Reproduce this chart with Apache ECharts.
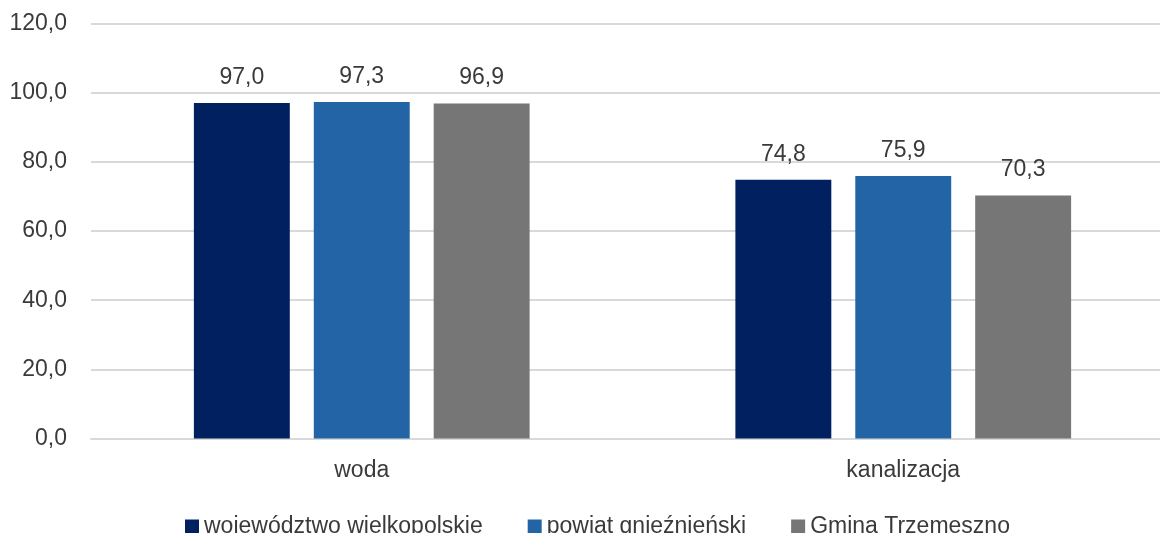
<!DOCTYPE html>
<html>
<head>
<meta charset="utf-8">
<script src="https://cdn.jsdelivr.net/npm/echarts@6/dist/echarts.min.js"></script>
<style>
  html, body { margin: 0; padding: 0; background: #fff; }
  #chart { width: 1160px; height: 533px; }
</style>
</head>
<body>
<div id="chart"></div>
<script>
// Share of population using water supply and sewage networks (%)
const categories = ['woda', 'kanalizacja'];
const seriesNames = ['województwo wielkopolskie', 'powiat gnieźnieński', 'Gmina Trzemeszno'];
const wojewodztwo = [97.0, 74.8];
const powiat = [97.3, 75.9];
const gmina = [96.9, 70.3];
const yTicks = [0, 20, 40, 60, 80, 100, 120];

const colors = ['#002060', '#2364A6', '#767676'];
const textColor = '#3a3a3a';
const fontFamily = '"Liberation Sans", Arial, sans-serif';
const fontSize = 23;
const fmt = v => Number(v).toFixed(1).replace('.', ',');

const chart = echarts.init(document.getElementById('chart'));

function makeSeries(name, data, color) {
  return {
    name: name,
    type: 'bar',
    data: data,
    barGap: '25%',
    barCategoryGap: '38%',
    itemStyle: { color: color },
    label: {
      show: true,
      position: 'top',
      distance: 14,
      color: textColor,
      fontSize: fontSize,
      fontFamily: fontFamily,
      formatter: p => fmt(p.value)
    }
  };
}

chart.setOption({
  animation: false,
  // the plot area runs past the right edge of the canvas
  grid: { left: 91, width: 1083, top: 23.5, bottom: 94.5, containLabel: false, outerBoundsMode: 'none' },
  legend: {
    bottom: -10,
    left: 180,
    itemWidth: 14,
    itemHeight: 14,
    itemGap: 45,
    icon: 'rect',
    textStyle: { color: textColor, fontSize: fontSize, fontFamily: fontFamily },
    data: seriesNames
  },
  xAxis: {
    type: 'category',
    data: categories,
    axisLine: { show: true, lineStyle: { color: '#d9d9d9', width: 2 } },
    axisTick: { show: false },
    axisLabel: { color: textColor, fontSize: fontSize, fontFamily: fontFamily, margin: 21 }
  },
  yAxis: {
    type: 'value',
    min: yTicks[0],
    max: yTicks[yTicks.length - 1],
    interval: yTicks[1] - yTicks[0],
    axisLine: { show: false },
    axisTick: { show: false },
    splitLine: { lineStyle: { color: '#d9d9d9', width: 2 } },
    axisLabel: {
      color: textColor, fontSize: fontSize, fontFamily: fontFamily, margin: 24,
      formatter: v => fmt(v)
    }
  },
  series: [
    makeSeries(seriesNames[0], wojewodztwo, colors[0]),
    makeSeries(seriesNames[1], powiat, colors[1]),
    makeSeries(seriesNames[2], gmina, colors[2])
  ]
});
</script>
</body>
</html>
